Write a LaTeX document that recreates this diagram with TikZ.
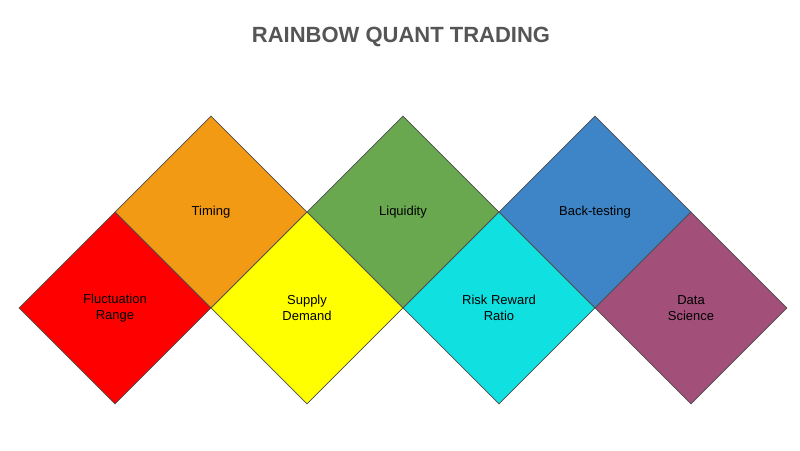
\documentclass[tikz,border=0pt]{standalone}
\usepackage{fontspec}
\setmainfont{Liberation Sans}
\usetikzlibrary{shapes.geometric, positioning}
\definecolor{cfluct}{HTML}{FF0000}
\definecolor{ctiming}{HTML}{F39A14}
\definecolor{csupply}{HTML}{FFFF00}
\definecolor{cliquid}{HTML}{6AA84F}
\definecolor{crisk}{HTML}{10E0E0}
\definecolor{cback}{HTML}{3D85C6}
\definecolor{cdata}{HTML}{A24F7A}
\definecolor{ctitle}{HTML}{555555}
\tikzset{
  tile/.style={diamond, draw=black!70, line width=0.5pt, minimum width=144pt,
    minimum height=144pt, inner sep=0pt, align=center, font=\fontsize{9.75}{11.5}\selectfont},
}
\begin{document}
\begin{tikzpicture}[x=0.75pt, y=-0.75pt]
			\useasboundingbox (0,0) rectangle (800,450);
			% Title
			\node[font=\bfseries\fontsize{16.5}{18}\selectfont, text=ctitle] (title) at (401,37) {RAINBOW QUANT TRADING};
	
			% Top row
			\node[tile, fill=ctiming] (timing) at (211,212) {Timing};
			\node[tile, fill=cliquid] (liquid) at (403,212) {Liquidity};
			\node[tile, fill=cback] (back) at (595,212) {Back-testing};
	
			% Bottom row
			\node[tile, fill=cfluct] (fluct) at (115,308) {Fluctuation\\Range};
			\node[tile, fill=csupply] (supply) at (307,308) {Supply\\Demand};
			\node[tile, fill=crisk] (risk) at (499,308) {Risk Reward\\Ratio};
			\node[tile, fill=cdata] (data) at (691,308) {Data\\Science};
		\end{tikzpicture}
\end{document}
